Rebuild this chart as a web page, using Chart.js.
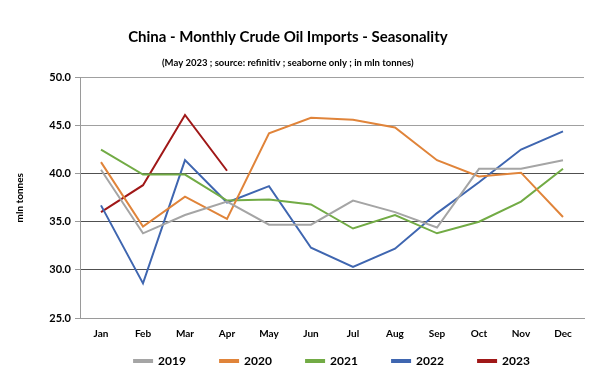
<!DOCTYPE html>
<html>
<head>
<meta charset="utf-8">
<script src="https://cdn.jsdelivr.net/npm/chart.js@4.4.1/dist/chart.umd.min.js"></script>
<style>
  html, body { margin: 0; padding: 0; background: #fff; }
  #wrap { width: 600px; height: 382px; }
</style>
</head>
<body>
<div id="wrap"><canvas id="chart"></canvas></div>
<script>
// valeurs (mln tonnes)
const months = ['Jan', 'Feb', 'Mar', 'Apr', 'May', 'Jun', 'Jul', 'Aug', 'Sep', 'Oct', 'Nov', 'Dec'];
const y2019 = [40.4, 33.8, 35.7, 37.1, 34.7, 34.7, 37.2, 36.0, 34.4, 40.5, 40.5, 41.4];
const y2020 = [41.2, 34.5, 37.6, 35.3, 44.2, 45.8, 45.6, 44.8, 41.4, 39.7, 40.1, 35.5];
const y2021 = [42.5, 39.9, 39.9, 37.2, 37.3, 36.8, 34.3, 35.7, 33.8, 35.0, 37.1, 40.5];
const y2022 = [36.7, 28.6, 41.4, 37.0, 38.7, 32.3, 30.3, 32.2, 35.9, 39.1, 42.5, 44.4];
const y2023 = [36.0, 38.8, 46.1, 40.3];
const yTicks = [25, 30, 35, 40, 45, 50];

const FONT = 'Lato, Open Sans, sans-serif';
// espaces pour décaler le texte (titre, légende)
const sp = (n) => ' '.repeat(n);

function serie(label, data, color) {
  return {
    label: label,
    data: data,
    borderColor: color,
    backgroundColor: color,
    borderWidth: 2,
    pointRadius: 0,
    tension: 0,
  };
}

new Chart(document.getElementById('chart'), {
  type: 'line',
  data: {
    labels: months,
    datasets: [
      serie('2019', y2019, '#a5a5a5'),
      serie('2020', y2020, '#e0843a'),
      serie('2021', y2021, '#72ab45'),
      serie('2022', y2022, '#3f66b0'),
      serie('2023', y2023, '#a01818'),
    ],
  },
  options: {
    responsive: true,
    maintainAspectRatio: false,
    animation: false,
    layout: { padding: { top: 28, right: 16, left: 10, bottom: 5 } },
    plugins: {
      title: {
        display: true,
        text: 'China - Monthly Crude Oil Imports - Seasonality' + sp(5),
        color: '#000',
        font: { family: FONT, size: 15, weight: 'bold' },
        padding: { top: 0, bottom: 11 },
      },
      subtitle: {
        display: true,
        text: '(May 2023 ; source: refinitiv ; seaborne only ; in mln tonnes)' + sp(8),
        color: '#000',
        font: { family: FONT, size: 9.5, weight: 'bold' },
        padding: { top: 0, bottom: 9 },
      },
      legend: {
        position: 'bottom',
        fullSize: false,
        labels: {
          color: '#000',
          font: { family: FONT, size: 12, weight: 'bold' },
          boxWidth: 18,
          boxHeight: 2,
          padding: 5,
          generateLabels: (chart) => {
            const items = Chart.defaults.plugins.legend.labels.generateLabels(chart);
            items.forEach((it, i) => {
              if (i < items.length - 1) it.text = it.text + sp(10);
            });
            return items;
          },
        },
      },
      tooltip: { enabled: false },
    },
    scales: {
      x: {
        offset: true,
        grid: {
          offset: true,
          drawTicks: false,
          color: (ctx) => (ctx.index === months.length ? '#9a9a9a' : 'rgba(0,0,0,0)'),
        },
        border: { color: '#9a9a9a' },
        ticks: {
          color: '#000',
          padding: 10,
          font: { family: FONT, size: 10, weight: 'bold' },
        },
      },
      y: {
        min: 25,
        max: 50,
        afterBuildTicks: (axis) => { axis.ticks = yTicks.map((v) => ({ value: v })); },
        afterFit: (axis) => { axis.width = 70; },
        title: {
          display: true,
          text: 'mln tonnes',
          color: '#000',
          font: { family: FONT, size: 10, weight: 'bold' },
          padding: { bottom: 10 },
        },
        grid: {
          tickLength: 5,
          color: (ctx) => {
            const v = ctx.tick && ctx.tick.value;
            if (v === 45 || v === 50 || v === 25) return '#a0a0a0';
            return '#505050';
          },
          tickColor: '#9a9a9a',
        },
        border: { color: '#9a9a9a' },
        ticks: {
          color: '#000',
          padding: 4,
          font: { family: FONT, size: 11, weight: 'bold' },
          callback: (v) => Number(v).toFixed(1),
        },
      },
    },
  },
});
</script>
</body>
</html>
